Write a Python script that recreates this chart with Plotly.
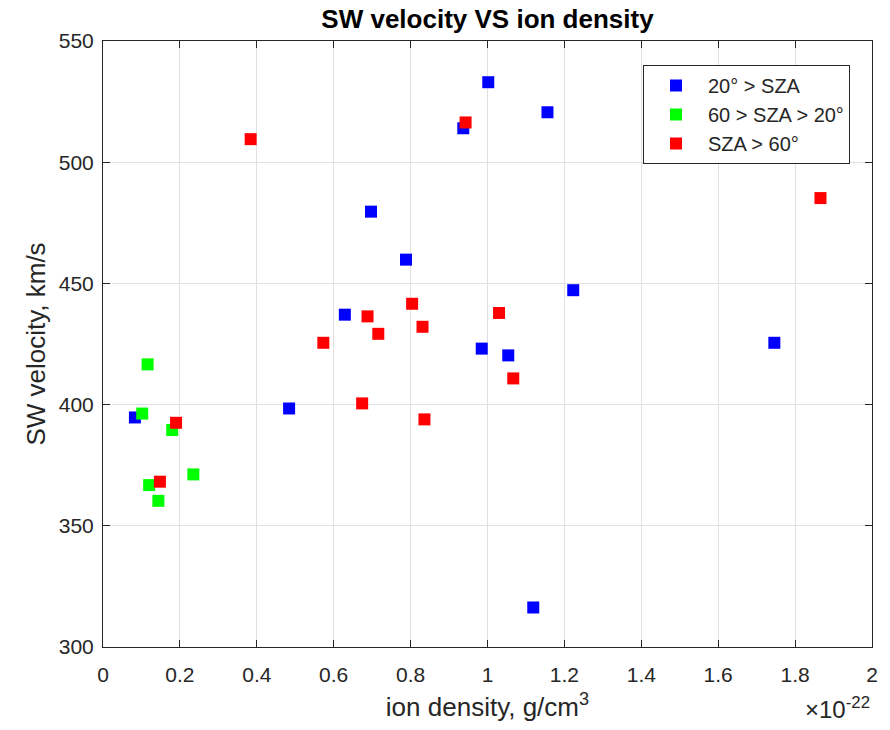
import plotly.graph_objects as go

# ion density in units of 1e-22 g/cm^3, SW velocity in km/s
blue_x = [0.083, 0.484, 0.629, 0.697, 0.788, 0.937, 1.002, 1.156, 0.985, 1.054, 1.223, 1.119, 1.746]
blue_y = [394.7, 398.4, 437.1, 479.6, 459.8, 514.0, 533.0, 520.6, 423.1, 420.3, 447.2, 316.3, 425.5]

green_x = [0.116, 0.102, 0.180, 0.120, 0.144, 0.235]
green_y = [416.6, 396.3, 389.5, 366.8, 360.3, 371.2]

red_x = [0.190, 0.148, 0.384, 0.943, 0.573, 0.688, 0.716, 0.804, 0.831, 1.030, 1.067, 0.674, 0.836, 1.866]
red_y = [392.5, 368.2, 509.5, 516.4, 425.5, 436.4, 429.2, 441.6, 432.1, 437.8, 410.8, 400.5, 393.9, 485.2]

series_names = ["20° > SZA", "60 > SZA > 20°", "SZA > 60°"]
series_colors = ["#0000ff", "#00ff00", "#ff0000"]

x_ticks = [0, 0.2, 0.4, 0.6, 0.8, 1, 1.2, 1.4, 1.6, 1.8, 2]
x_tick_labels = ["0", "0.2", "0.4", "0.6", "0.8", "1", "1.2", "1.4", "1.6", "1.8", "2"]
y_ticks = [300, 350, 400, 450, 500, 550]

FONT = "Liberation Sans, Arial, Helvetica, sans-serif"
DARK = "rgb(38,38,38)"

W, H = 890, 730
L, R, T, B = 103, 18, 41, 83
PW, PH = W - L - R, H - T - B

fig = go.Figure()
for name, color, xs, ys in zip(series_names, series_colors,
                               [blue_x, green_x, red_x], [blue_y, green_y, red_y]):
    fig.add_trace(go.Scatter(
        x=xs, y=ys, mode="markers", name=name,
        marker=dict(symbol="square", size=12, color=color, line=dict(width=0)),
    ))

axis_common = dict(
    showline=True, linecolor=DARK, linewidth=1, mirror="ticks",
    ticks="inside", ticklen=7, tickcolor=DARK, tickwidth=1,
    showgrid=True, gridcolor="rgb(225,225,225)", gridwidth=1,
    zeroline=False, tickfont=dict(family=FONT, size=21, color=DARK),
)

fig.update_layout(
    width=W, height=H,
    margin=dict(l=L, r=R, t=T, b=B),
    paper_bgcolor="white", plot_bgcolor="white",
    font=dict(family=FONT, color=DARK),
    title=dict(text="<b>SW velocity VS ion density</b>", x=(L + PW / 2) / W,
               xanchor="center", y=1 - 19 / H, yanchor="middle",
               font=dict(family=FONT, size=26, color="black")),
    xaxis=dict(range=[0, 2], tickvals=x_ticks, ticktext=x_tick_labels,
               ticklabelstandoff=9,
               title=dict(text="ion density, g/cm<sup>3</sup>", standoff=12,
                          font=dict(family=FONT, size=26, color=DARK)),
               **axis_common),
    yaxis=dict(range=[300, 550], tickvals=y_ticks, ticklabelstandoff=4,
               title=dict(text="SW velocity, km/s", standoff=5,
                          font=dict(family=FONT, size=26, color=DARK)),
               **axis_common),
    legend=dict(x=(850 - L) / PW, xanchor="right", y=1 - (65 - T) / PH, yanchor="top",
                bgcolor="white", bordercolor=DARK, borderwidth=1,
                font=dict(family=FONT, size=20, color=DARK),
                itemwidth=54, traceorder="normal"),
    showlegend=True,
)

fig.add_annotation(
    x=1, xref="paper", xanchor="right",
    y=-(708 - (H - B)) / PH, yref="paper", yanchor="middle",
    text="×10<sup>-22</sup>", showarrow=False,
    font=dict(family=FONT, size=24, color=DARK),
)

fig.write_html("out.html")
